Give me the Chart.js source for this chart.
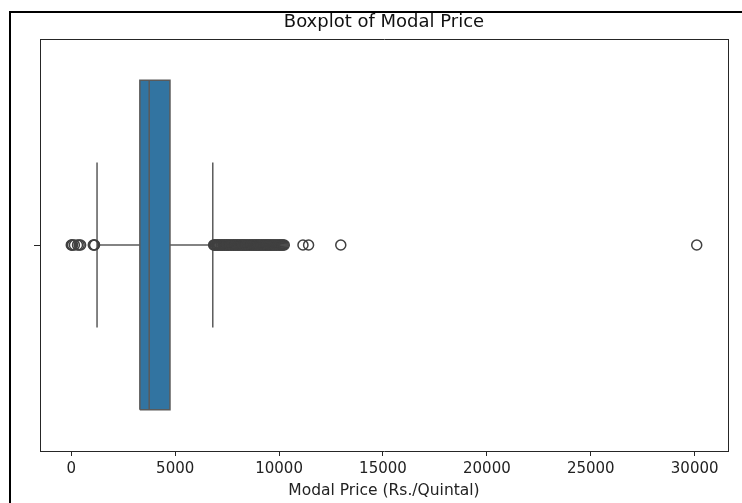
<!DOCTYPE html>
<html>
<head>
<meta charset="utf-8">
<script src="https://cdn.jsdelivr.net/npm/chart.js@4.4.1/dist/chart.umd.min.js"></script>
<style>
  html, body { margin: 0; padding: 0; background: #ffffff; overflow: hidden; }
  #frame {
    position: absolute; left: 9px; top: 11px;
    width: 800px; height: 560px;
    border: 2px solid #000000;
  }
  #chart { position: absolute; left: 0; top: 0; }
</style>
</head>
<body>
<div id="frame"></div>
<canvas id="chart" width="742" height="503"></canvas>
<script>
// Five-number summary of modal prices (Rs./Quintal)
const boxStats = { whiskerLow: 1240, q1: 3300, median: 3750, q3: 4750, whiskerHigh: 6810 };

// Points beyond the whiskers
const lowOutliers = [0, 25, 60, 150, 300, 380, 450, 1060, 1100, 1120];
const highOutliers = [
  6850, 6890, 6930, 6980, 7020, 7070, 7110, 7150, 7200, 7240, 7290, 7330,
  7380, 7420, 7470, 7510, 7560, 7600, 7650, 7700, 7740, 7790, 7830, 7880,
  7920, 7970, 8010, 8060, 8100, 8150, 8200, 8240, 8290, 8330, 8380, 8420,
  8470, 8510, 8560, 8600, 8650, 8700, 8740, 8790, 8830, 8880, 8920, 8970,
  9010, 9060, 9100, 9150, 9200, 9240, 9290, 9330, 9380, 9420, 9470, 9510,
  9560, 9600, 9650, 9700, 9750, 9800, 9850, 9900, 9950, 10000, 10050, 10100,
  10150, 10200, 10250,
  11150, 11420, 12970, 30100
];

// Tick labels along the price axis
const priceTicks = [0, 5000, 10000, 15000, 20000, 25000, 30000];

const BOX_FILL = '#3274a1';
const LINE_GRAY = '#5a5a5a';
const FLIER_GRAY = '#404040';
const BOX_HALF = 0.4;   // box height on the unit category band
const CAP_HALF = 0.2;   // whisker cap half-length

// Axis limits with 5% margin around the data
const allValues = lowOutliers.concat(highOutliers, Object.values(boxStats));
const dataMin = Math.min(...allValues);
const dataMax = Math.max(...allValues);
const margin = (dataMax - dataMin) * 0.05;

const s = boxStats;
const seg = (pts, extra) => Object.assign({
  type: 'line',
  data: pts,
  showLine: true,
  fill: false,
  borderColor: LINE_GRAY,
  borderWidth: 1.5,
  pointRadius: 0,
  pointHoverRadius: 0,
  tension: 0
}, extra || {});

const fliers = lowOutliers.concat(highOutliers).map(v => ({ x: v, y: 0 }));

const datasets = [
  {
    type: 'scatter',
    label: 'outliers',
    data: fliers,
    pointRadius: 5,
    pointHoverRadius: 5,
    pointBorderWidth: 1.5,
    pointBorderColor: FLIER_GRAY,
    pointBackgroundColor: 'rgba(0,0,0,0)',
    order: 0
  },
  seg([{ x: s.median, y: -BOX_HALF }, { x: s.median, y: BOX_HALF }], { label: 'median', order: 1 }),
  seg([
    { x: s.q1, y: -BOX_HALF }, { x: s.q3, y: -BOX_HALF },
    { x: s.q3, y: BOX_HALF }, { x: s.q1, y: BOX_HALF }, { x: s.q1, y: -BOX_HALF }
  ], { label: 'box edge', order: 2 }),
  seg([{ x: s.whiskerLow, y: -CAP_HALF }, { x: s.whiskerLow, y: CAP_HALF }], { label: 'cap low', order: 3 }),
  seg([{ x: s.whiskerHigh, y: -CAP_HALF }, { x: s.whiskerHigh, y: CAP_HALF }], { label: 'cap high', order: 3 }),
  seg([{ x: s.whiskerLow, y: 0 }, { x: s.q1, y: 0 }], { label: 'whisker low', order: 4 }),
  seg([{ x: s.q3, y: 0 }, { x: s.whiskerHigh, y: 0 }], { label: 'whisker high', order: 4 }),
  seg([{ x: s.q1, y: BOX_HALF }, { x: s.q3, y: BOX_HALF }], {
    label: 'box top', borderWidth: 0, borderColor: 'rgba(0,0,0,0)',
    fill: '+1', backgroundColor: BOX_FILL, order: 5
  }),
  seg([{ x: s.q1, y: -BOX_HALF }, { x: s.q3, y: -BOX_HALF }], {
    label: 'box bottom', borderWidth: 0, borderColor: 'rgba(0,0,0,0)', order: 6
  })
];

const FONT = 'DejaVu Sans';
const AXIS_COLOR = '#262626';

new Chart(document.getElementById('chart'), {
  type: 'scatter',
  data: { datasets },
  options: {
    responsive: false,
    devicePixelRatio: 1,
    animation: false,
    events: [],
    layout: { padding: { top: 0, left: 0, right: 14, bottom: 0 } },
    plugins: {
      legend: { display: false },
      tooltip: { enabled: false },
      title: {
        display: true,
        fullSize: false,
        text: 'Boxplot of Modal Price',
        color: '#111111',
        font: { family: FONT, size: 18, weight: 'normal', lineHeight: 1.2 },
        padding: { top: 11.5, bottom: 5.9 }
      }
    },
    scales: {
      x: {
        type: 'linear',
        position: 'bottom',
        min: dataMin - margin,
        max: dataMax + margin,
        afterBuildTicks: (scale) => { scale.ticks = priceTicks.map(v => ({ value: v })); },
        afterFit: (scale) => { scale.height = 52; },
        ticks: {
          color: '#222222',
          font: { family: FONT, size: 15 },
          padding: 4,
          maxRotation: 0,
          autoSkip: false,
          callback: (v) => String(v)
        },
        grid: { display: true, drawOnChartArea: false, drawTicks: true, tickLength: 5, color: AXIS_COLOR, lineWidth: 1 },
        border: { display: true, color: AXIS_COLOR, width: 1 },
        title: {
          display: true,
          text: 'Modal Price (Rs./Quintal)',
          color: '#222222',
          font: { family: FONT, size: 15.5, lineHeight: 1.2 },
          padding: { top: 0, bottom: 2.7 }
        }
      },
      y: {
        type: 'linear',
        position: 'left',
        min: -0.5,
        max: 0.5,
        afterBuildTicks: (scale) => { scale.ticks = [{ value: 0 }]; },
        afterFit: (scale) => { scale.width = 40; },
        ticks: { display: true, callback: () => '', padding: 0 },
        grid: { display: true, drawOnChartArea: false, drawTicks: true, tickLength: 6, color: AXIS_COLOR, lineWidth: 1 },
        border: { display: true, color: AXIS_COLOR, width: 1 }
      },
      xTop: {
        type: 'linear',
        position: 'top',
        ticks: { display: false },
        grid: { display: false, drawTicks: false },
        border: { display: true, color: AXIS_COLOR, width: 1 },
        afterFit: (scale) => { scale.height = 0; }
      },
      yRight: {
        type: 'linear',
        position: 'right',
        ticks: { display: false },
        grid: { display: false, drawTicks: false },
        border: { display: true, color: AXIS_COLOR, width: 1 },
        afterFit: (scale) => { scale.width = 0; }
      }
    }
  }
});
</script>
</body>
</html>
